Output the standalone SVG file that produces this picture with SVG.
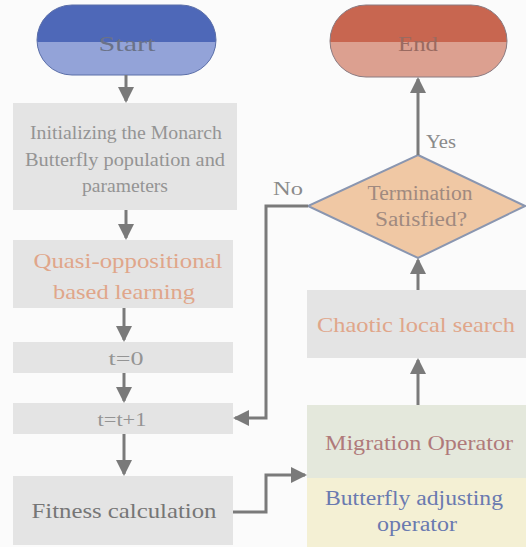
<svg xmlns="http://www.w3.org/2000/svg" width="526" height="547" viewBox="0 0 526 547">
<defs>
<marker id="ahb" markerWidth="16" markerHeight="16" refX="14" refY="8" orient="auto" markerUnits="userSpaceOnUse" viewBox="0 0 16 16">
<path d="M0,0 L16,8 L0,16 Z" fill="#7a7a7a"/>
</marker>
<clipPath id="cs"><rect x="37" y="5" width="179" height="70" rx="35"/></clipPath>
<clipPath id="ce"><rect x="330" y="5" width="177" height="72" rx="36"/></clipPath>
</defs>
<style>
text{font-family:'Liberation Serif','DejaVu Serif','Times New Roman',serif;text-anchor:middle;dominant-baseline:central}
.box{fill:#e4e4e4}
.gray{fill:#949494}
.salmon{fill:#e0a68a}
.conn{fill:none;stroke:#7a7a7a;stroke-width:3}
</style>
<rect width="526" height="547" fill="#fbfbfb"/>
<g id="start">
<g clip-path="url(#cs)">
<rect x="37" y="5" width="179" height="37" fill="#4e68b8"/>
<rect x="37" y="42" width="179" height="33" fill="#93a3d8"/>
</g>
<rect x="37" y="5" width="179" height="70" rx="35" fill="none" stroke="#5a6ea8" stroke-width="1"/>
<text x="127" y="43" font-size="22" fill="#6a7288" textLength="57" lengthAdjust="spacingAndGlyphs">Start</text>
</g>
<g id="init">
<rect class="box" x="13" y="103" width="224" height="107"/>
<text x="126" y="132" font-size="19" class="gray" textLength="192" lengthAdjust="spacingAndGlyphs">Initializing the Monarch</text>
<text x="125" y="159" font-size="19" class="gray" textLength="200" lengthAdjust="spacingAndGlyphs">Butterfly  population and</text>
<text x="125" y="185" font-size="19" class="gray" textLength="86" lengthAdjust="spacingAndGlyphs">parameters</text>
</g>
<g id="qobl">
<rect class="box" x="13" y="240" width="220" height="68"/>
<text x="128" y="261" font-size="21" class="salmon" textLength="189" lengthAdjust="spacingAndGlyphs">Quasi-oppositional</text>
<text x="124" y="292" font-size="21" class="salmon" textLength="142" lengthAdjust="spacingAndGlyphs">based learning</text>
</g>
<g id="t0">
<rect class="box" x="13" y="342" width="220" height="31"/>
<text x="126" y="358" font-size="19" class="gray" textLength="35" lengthAdjust="spacingAndGlyphs">t=0</text>
</g>
<g id="t1">
<rect class="box" x="13" y="403" width="220" height="31"/>
<text x="122" y="419" font-size="19" class="gray" textLength="49" lengthAdjust="spacingAndGlyphs">t=t+1</text>
</g>
<g id="fitness">
<rect class="box" x="13" y="476" width="220" height="69"/>
<text x="124" y="510" font-size="22" fill="#767676" textLength="185" lengthAdjust="spacingAndGlyphs">Fitness calculation</text>
</g>
<g id="end">
<g clip-path="url(#ce)">
<rect x="330" y="5" width="177" height="37" fill="#c86650"/>
<rect x="330" y="42" width="177" height="35" fill="#dca090"/>
</g>
<rect x="330" y="5" width="177" height="72" rx="36" fill="none" stroke="#8a7a80" stroke-width="1"/>
<text x="418" y="43" font-size="22" fill="#9a6a60" textLength="40" lengthAdjust="spacingAndGlyphs">End</text>
</g>
<g id="decision">
<polygon points="418,155 525,206 418,258 308,206" fill="#f0c8a4" stroke="#8a96b0" stroke-width="2"/>
<text x="420" y="193" font-size="20" fill="#a08a80" textLength="105" lengthAdjust="spacingAndGlyphs">Termination</text>
<text x="421" y="219" font-size="20" fill="#a08a80" textLength="92" lengthAdjust="spacingAndGlyphs">Satisfied?</text>
</g>
<g id="chaotic">
<rect class="box" x="307" y="290" width="219" height="68"/>
<text x="416" y="325" font-size="21" class="salmon" textLength="198" lengthAdjust="spacingAndGlyphs">Chaotic local search</text>
</g>
<g id="migration">
<rect x="307" y="405" width="219" height="73" fill="#e4e8dc"/>
<text x="419" y="443" font-size="21" fill="#b07a7a" textLength="188" lengthAdjust="spacingAndGlyphs">Migration Operator</text>
</g>
<g id="adjusting">
<rect x="307" y="478" width="219" height="69" fill="#f4f0d4"/>
<text x="414" y="498" font-size="20" fill="#6a7ab0" textLength="178" lengthAdjust="spacingAndGlyphs">Butterfly adjusting</text>
<text x="417" y="524" font-size="20" fill="#6a7ab0" textLength="80" lengthAdjust="spacingAndGlyphs">operator</text>
</g>
<g id="labels">
<text x="441" y="142" font-size="18" fill="#8a8a8a" textLength="30" lengthAdjust="spacingAndGlyphs">Yes</text>
<text x="288" y="189" font-size="18" fill="#8a8a8a" textLength="30" lengthAdjust="spacingAndGlyphs">No</text>
</g>
<g id="connectors">
<line class="conn" x1="126" y1="75" x2="126" y2="101" marker-end="url(#ahb)"/>
<line class="conn" x1="126" y1="210" x2="126" y2="238" marker-end="url(#ahb)"/>
<line class="conn" x1="124" y1="308" x2="124" y2="340" marker-end="url(#ahb)"/>
<line class="conn" x1="124" y1="373" x2="124" y2="401" marker-end="url(#ahb)"/>
<line class="conn" x1="124" y1="434" x2="124" y2="474" marker-end="url(#ahb)"/>
<polyline class="conn" points="233,512 266,512 266,475 305,475" marker-end="url(#ahb)"/>
<line class="conn" x1="418" y1="405" x2="418" y2="360" marker-end="url(#ahb)"/>
<line class="conn" x1="418" y1="290" x2="418" y2="260" marker-end="url(#ahb)"/>
<line class="conn" x1="418" y1="155" x2="418" y2="79" marker-end="url(#ahb)"/>
<polyline class="conn" points="308,206 266,206 266,418 235,418" marker-end="url(#ahb)"/>
</g>
</svg>
